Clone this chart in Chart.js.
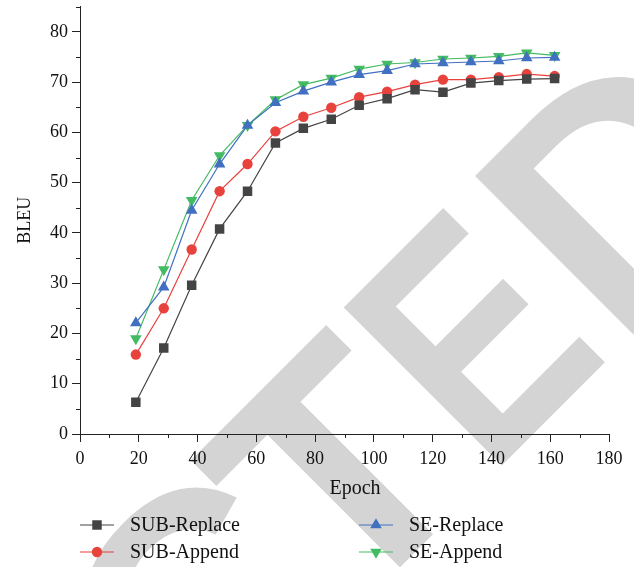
<!DOCTYPE html>
<html>
<head>
<meta charset="utf-8">
<script src="https://cdn.jsdelivr.net/npm/chart.js@4/dist/chart.umd.min.js"></script>
<style>
  body { margin: 0; background: #fff; }
</style>
</head>
<body>
<canvas id="bleuChart" width="634" height="567"></canvas>
<script>
// data
const epochs = [19, 28.5, 38, 47.5, 57, 66.5, 76, 85.5, 95, 104.5, 114, 123.5, 133, 142.5, 152, 161.5];
const subReplace = [6.3, 17.1, 29.6, 40.8, 48.3, 57.9, 60.8, 62.6, 65.4, 66.7, 68.5, 68.0, 69.8, 70.3, 70.6, 70.7];
const subAppend = [15.8, 25.0, 36.7, 48.3, 53.7, 60.2, 63.1, 64.9, 67.0, 68.1, 69.5, 70.5, 70.5, 71.0, 71.6, 71.2];
const seReplace = [22.1, 29.2, 44.5, 53.7, 61.4, 65.9, 68.2, 70.0, 71.5, 72.3, 73.6, 73.8, 74.0, 74.2, 74.8, 74.9];
const seAppend = [19.0, 32.7, 46.5, 55.4, 61.4, 66.5, 69.5, 70.8, 72.6, 73.6, 73.9, 74.6, 74.8, 75.1, 75.8, 75.3];
const seriesNames = ['SUB-Replace', 'SUB-Append', 'SE-Replace', 'SE-Append'];

const serif = '"Liberation Serif", "Times New Roman", serif';
const axisColor = '#222';

function makeSeries(label, values, color, pointStyle, radius, rotation) {
  return {
    label: label,
    data: values.map((v, i) => ({ x: epochs[i], y: v })),
    borderColor: color,
    backgroundColor: color,
    borderWidth: 1.2,
    pointStyle: pointStyle,
    pointRadius: radius,
    pointRotation: rotation || 0,
    pointBorderWidth: 0,
    tension: 0
  };
}

// the grey "RETRACTED" stamp behind the plot
const watermark = {
  id: 'watermark',
  beforeDraw(chart) {
    const ctx = chart.ctx;
    ctx.save();
    ctx.fillStyle = '#d4d4d4';
    ctx.rotate(-Math.PI / 4);
    ctx.font = 'bold 325px "Liberation Sans", Arial, sans-serif';
    ctx.textAlign = 'center';
    ctx.textBaseline = 'alphabetic';
    [['C', -290, 1], ['T', -95, 1], ['E', 95, 0.8], ['D', 307, 1]].forEach(([ch, u, sx]) => {
      ctx.save();
      ctx.translate(u, 684);
      ctx.scale(sx, 1);
      ctx.fillText(ch, 0, 0);
      ctx.restore();
    });
    ctx.restore();
  }
};

// short minor ticks, x title and the two-column legend
const extras = {
  id: 'extras',
  afterDraw(chart) {
    const { ctx, scales: { x, y } } = chart;
    ctx.save();
    ctx.strokeStyle = axisColor;
    ctx.lineWidth = 1;
    ctx.beginPath();
    for (let v = 10; v < 180; v += 20) {
      const px = Math.round(x.getPixelForValue(v)) + 0.5;
      ctx.moveTo(px, y.bottom);
      ctx.lineTo(px, y.bottom + 4);
    }
    for (let v = 5; v <= 85; v += 10) {
      const py = Math.round(y.getPixelForValue(v)) + 0.5;
      ctx.moveTo(x.left, py);
      ctx.lineTo(x.left - 4, py);
    }
    ctx.stroke();

    ctx.fillStyle = '#111';
    ctx.font = '20px ' + serif;
    ctx.textAlign = 'center';
    ctx.textBaseline = 'middle';
    ctx.fillText('Epoch', 355, 489);

    const slots = [[80, 525], [80, 552], [359, 525], [359, 552]];
    chart.data.datasets.forEach((ds, i) => {
      const [lx, ly] = slots[i];
      ctx.strokeStyle = ds.borderColor;
      ctx.fillStyle = ds.backgroundColor;
      ctx.lineWidth = 1.2;
      ctx.beginPath();
      ctx.moveTo(lx, ly);
      ctx.lineTo(lx + 34, ly);
      ctx.stroke();
      Chart.helpers.drawPoint(ctx, {
        pointStyle: ds.pointStyle,
        radius: ds.pointRadius,
        rotation: ds.pointRotation,
        borderWidth: 0
      }, lx + 17, ly);
      ctx.fillStyle = '#111';
      ctx.font = '20px ' + serif;
      ctx.textAlign = 'left';
      ctx.fillText(ds.label, lx + 50, ly + 1);
    });
    ctx.restore();
  }
};

new Chart(document.getElementById('bleuChart'), {
  type: 'line',
  data: {
    datasets: [
      makeSeries(seriesNames[0], subReplace, '#444444', 'rect', 6.7),
      makeSeries(seriesNames[1], subAppend, '#e8423d', 'circle', 5.2),
      makeSeries(seriesNames[2], seReplace, '#4170c0', 'triangle', 6.7),
      makeSeries(seriesNames[3], seAppend, '#43bb62', 'triangle', 6.7, 180)
    ]
  },
  options: {
    responsive: false,
    animation: false,
    layout: { padding: { left: 0, right: 25, top: 5, bottom: 62 } },
    plugins: {
      legend: { display: false },
      tooltip: { enabled: false }
    },
    scales: {
      x: {
        type: 'linear',
        min: 0,
        max: 180,
        afterFit: (scale) => { scale.height = 71; },
        border: { display: true, color: axisColor, width: 1 },
        grid: {
          drawOnChartArea: false,
          tickLength: 8,
          tickColor: (c) => c.tick && c.tick.value % 20 === 0 ? axisColor : 'rgba(0,0,0,0)'
        },
        ticks: {
          stepSize: 10,
          autoSkip: false,
          maxRotation: 0,
          padding: 6,
          color: '#111',
          font: { family: serif, size: 18 },
          callback: (v) => v % 20 === 0 ? v : ''
        }
      },
      y: {
        min: 0,
        max: 85,
        afterFit: (scale) => { scale.width = 80; scale.paddingTop = 0; },
        border: { display: true, color: axisColor, width: 1 },
        grid: {
          drawOnChartArea: false,
          tickLength: 8,
          tickColor: (c) => c.tick && c.tick.value % 10 === 0 ? axisColor : 'rgba(0,0,0,0)'
        },
        title: {
          display: true,
          text: 'BLEU',
          color: '#111',
          font: { family: serif, size: 18 },
          padding: { top: 14, bottom: 0 }
        },
        ticks: {
          stepSize: 5,
          autoSkip: false,
          padding: 4,
          color: '#111',
          font: { family: serif, size: 18 },
          callback: (v) => v % 10 === 0 ? v : ''
        }
      }
    }
  },
  plugins: [watermark, extras]
});
</script>
</body>
</html>
